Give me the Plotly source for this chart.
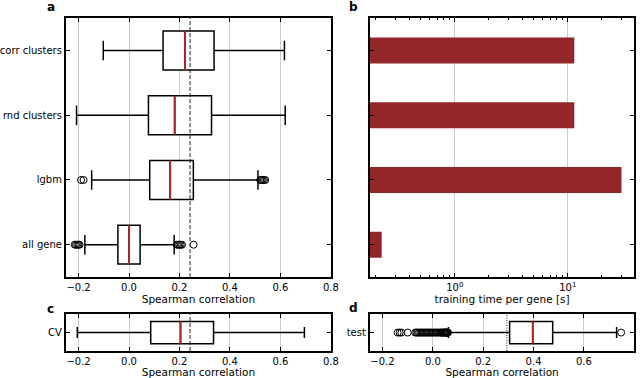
import plotly.graph_objs as go

# panel a: spearman correlation per model
models = ["all gene", "lgbm", "rnd clusters", "corr clusters"]
low_fence = [-0.175, -0.148, -0.208, -0.102]
q1 = [-0.044, 0.082, 0.077, 0.135]
median = [0.0, 0.163, 0.181, 0.222]
q3 = [0.044, 0.255, 0.327, 0.337]
high_fence = [0.179, 0.511, 0.619, 0.616]
outliers = {
    "all gene": [-0.215, -0.21, -0.205, -0.2, -0.196, 0.19, 0.195, 0.2, 0.205, 0.21, 0.256],
    "lgbm": [-0.19, -0.18, 0.52, 0.525, 0.53, 0.535, 0.54],
}
ref_a = 0.242

# panel b: training time
train_time = [0.226, 29.8, 11.4, 11.4]

# panel c: CV
cv_stats = dict(low=-0.205, q1=0.086, med=0.204, q3=0.335, high=0.695)

# panel d: test
test_stats = dict(low=0.062, q1=0.305, med=0.397, q3=0.476, high=0.73)
test_outliers = [-0.14, -0.132, -0.125, -0.1, -0.07, -0.065, -0.06, -0.055, -0.05, -0.045,
                 -0.04, -0.035, -0.03, -0.025, -0.02, -0.015, -0.01, -0.005, 0.0, 0.005,
                 0.01, 0.015, 0.02, 0.025, 0.03, 0.033, 0.036, 0.04, 0.042, 0.045,
                 0.047, 0.05, 0.052, 0.054, 0.056, 0.058, 0.06, 0.748]
ref_d = 0.294

BOX_W = 0.6
MED_COLOR = "#a8282a"
BAR_COLOR = "#922628"
FONT = "DejaVu Sans"

fig = go.Figure()


def add_box(pos, lo, a, m, b, hi, xa, ya):
    fig.add_trace(go.Box(y=[pos], q1=[a], median=[m], q3=[b], lowerfence=[lo], upperfence=[hi],
                         orientation="h", width=BOX_W, whiskerwidth=0.5, fillcolor="white",
                         line=dict(color="black", width=1.5), boxpoints=False,
                         xaxis=xa, yaxis=ya, showlegend=False, hoverinfo="skip"))
    fig.add_trace(go.Scatter(x=[m, m], y=[pos - BOX_W / 2, pos + BOX_W / 2], mode="lines",
                             line=dict(color=MED_COLOR, width=2), xaxis=xa, yaxis=ya,
                             showlegend=False))


def add_outliers(vals, pos, xa, ya):
    fig.add_trace(go.Scatter(x=vals, y=[pos] * len(vals), mode="markers",
                             marker=dict(symbol="circle-open", size=7, color="black",
                                         line=dict(width=1)),
                             xaxis=xa, yaxis=ya, showlegend=False))


for i, name in enumerate(models):
    add_box(i, low_fence[i], q1[i], median[i], q3[i], high_fence[i], "x", "y")
    if name in outliers:
        add_outliers(outliers[name], i, "x", "y")

fig.add_trace(go.Bar(x=train_time, y=list(range(len(models))), orientation="h", width=0.4,
                     marker=dict(color=BAR_COLOR, line=dict(width=0)),
                     xaxis="x2", yaxis="y2", showlegend=False))

add_box(0, cv_stats["low"], cv_stats["q1"], cv_stats["med"], cv_stats["q3"], cv_stats["high"], "x3", "y3")
add_box(0, test_stats["low"], test_stats["q1"], test_stats["med"], test_stats["q3"], test_stats["high"], "x4", "y4")
add_outliers(test_outliers, 0, "x4", "y4")

fig.add_shape(type="line", x0=ref_a, x1=ref_a, y0=0, y1=1, xref="x", yref="y domain",
              line=dict(color="#222222", width=1, dash="4px,2px"))
fig.add_shape(type="line", x0=ref_a, x1=ref_a, y0=0, y1=1, xref="x3", yref="y3 domain",
              line=dict(color="#222222", width=1, dash="4px,2px"))
fig.add_shape(type="line", x0=ref_d, x1=ref_d, y0=0, y1=1, xref="x4", yref="y4 domain",
              line=dict(color="#222222", width=1, dash="1px,1.5px"))

frame = dict(showline=True, linecolor="black", linewidth=2, mirror="allticks", ticks="inside",
             ticklen=4, tickwidth=1.2, tickcolor="black", zeroline=False, automargin=False)
corr_x = dict(frame, range=[-0.25, 0.8], tickvals=[-0.2, 0.0, 0.2, 0.4, 0.6, 0.8],
              tickformat=".1f", showgrid=True, gridcolor="#cccccc", gridwidth=1)
title_font = dict(size=10.5, family=FONT)

top_y = [0.267, 0.952]
bot_y = [0.0714, 0.169]
left_x = [0.103, 0.517]
right_x = [0.578, 0.991]

minor_vals = [0.2, 0.3, 0.4, 0.5, 0.6, 0.7, 0.8, 0.9, 2, 3, 4, 5, 6, 7, 8, 9, 20, 30]

fig.update_layout(
    width=640, height=378, margin=dict(l=0, r=0, t=0, b=0),
    plot_bgcolor="white", paper_bgcolor="white",
    font=dict(family=FONT, size=10, color="black"),
    xaxis=dict(corr_x, domain=left_x, anchor="y",
               title=dict(text="Spearman correlation", standoff=4, font=title_font)),
    yaxis=dict(frame, domain=top_y, anchor="x", range=[-0.5, 3.5],
               tickvals=list(range(len(models))), ticktext=models, showgrid=False),
    xaxis2=dict(frame, domain=right_x, anchor="y2", type="log", range=[-0.75, 1.587],
                tickvals=[1, 10], ticktext=["10<sup>0</sup>", "10<sup>1</sup>"],
                showgrid=True, gridcolor="#cccccc",
                minor=dict(tickvals=minor_vals, ticks="inside", ticklen=2, tickcolor="black",
                           showgrid=False),
                title=dict(text="training time per gene [s]", standoff=4, font=title_font)),
    yaxis2=dict(frame, domain=top_y, anchor="x2", range=[-0.5, 3.5],
                tickvals=list(range(len(models))), showticklabels=False, showgrid=False),
    xaxis3=dict(corr_x, domain=left_x, anchor="y3",
                title=dict(text="Spearman correlation", standoff=6, font=title_font)),
    yaxis3=dict(frame, domain=bot_y, anchor="x3", range=[-0.5, 0.5],
                tickvals=[0], ticktext=["CV"], showgrid=False),
    xaxis4=dict(corr_x, domain=right_x, anchor="y4",
                title=dict(text="Spearman correlation", standoff=6, font=title_font)),
    yaxis4=dict(frame, domain=bot_y, anchor="x4", range=[-0.5, 0.5],
                tickvals=[0], ticktext=["test"], showgrid=False),
)

for letter, x, y in [("a", 0.079, 0.981), ("b", 0.552, 0.981), ("c", 0.079, 0.182), ("d", 0.552, 0.185)]:
    fig.add_annotation(text="<b>%s</b>" % letter, x=x, y=y, xref="paper", yref="paper",
                       showarrow=False, xanchor="center", yanchor="middle",
                       font=dict(size=12, family=FONT))

# drop the default page margin so the figure sits at the window's corner
fig.write_html("out.html", config={"displayModeBar": False},
               post_script="document.body.style.margin='0';")
